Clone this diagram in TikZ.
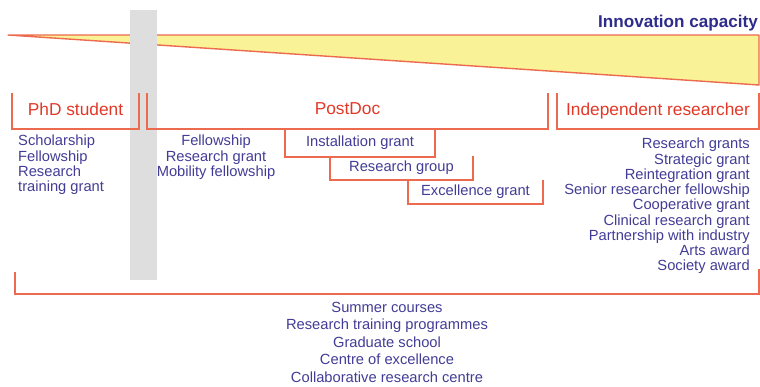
\documentclass[tikz,border=0pt]{standalone}
\usepackage{fontspec}
\setmainfont{Liberation Sans}
\usepackage{tikz}
\definecolor{stagered}{RGB}{226,56,40}
\definecolor{lineorange}{RGB}{236,106,78}
\definecolor{listblue}{RGB}{66,60,150}
\definecolor{titleblue}{RGB}{46,44,138}
\definecolor{wedgeyellow}{RGB}{250,242,150}
\definecolor{bargray}{RGB}{222,222,222}

\begin{document}
\begin{tikzpicture}[x=1pt,y=-1pt,
	stage/.style={text=stagered,font=\fontsize{17.3}{20}\selectfont,
		inner sep=0pt,outer sep=0pt,minimum height=36pt,text depth=4pt},
	stepbox/.style={text=listblue,font=\fontsize{14.7}{16}\selectfont,
		inner sep=0pt,outer sep=0pt,minimum height=24pt},
	grant/.style={text=listblue,font=\fontsize{14.7}{15.25}\selectfont,inner sep=0pt},
	bracket/.style={draw=lineorange,line width=1.4pt}]
	\useasboundingbox (0,0) rectangle (760,386);
	\filldraw[fill=wedgeyellow,draw=lineorange,line width=1.4pt,line join=round]
		(8,35) -- (759,35) -- (759,85) -- cycle;
	\node[font=\fontsize{17.1}{20}\selectfont\bfseries,text=titleblue,anchor=base east,inner sep=0pt]
		(capacity) at (758,27) {Innovation capacity};
	\fill[bargray] (130,10) rectangle (157,280);
	\node[stage,minimum width=127pt] (phd) at (75.5,111) {PhD student};
	\node[stage,minimum width=401pt] (postdoc) at (347.5,111) {PostDoc};
	\node[stage,minimum width=202pt] (indep) at (658,111) {Independent researcher};
	\foreach \n in {phd,postdoc,indep}
		\draw[bracket] (\n.north west) |- (\n.south east) -- (\n.north east);
	\node[stepbox,minimum width=150pt,minimum height=28pt] (inst) at (360,143) {Installation grant};
	\node[stepbox,minimum width=143pt] (group) at (401.5,168) {Research group};
	\node[stepbox,minimum width=135pt] (excel) at (475.5,192) {Excellence grant};
	\foreach \n in {inst,group,excel}
		\draw[bracket] (\n.north west) |- (\n.south east) -- (\n.north east);
	\node[grant,align=left,anchor=north west] (phdlist) at (18,135)
		{Scholarship\\Fellowship\\Research\\training grant};
	\node[grant,align=center,anchor=north] (postlist) at (216,135)
		{Fellowship\\Research grant\\Mobility fellowship};
	\node[grant,align=right,anchor=north east] (indeplist) at (750,138)
		{Research grants\\Strategic grant\\Reintegration grant\\Senior researcher fellowship\\
		Cooperative grant\\Clinical research grant\\Partnership with industry\\Arts award\\Society award};
	\draw[bracket] (15,272) |- (759,294) -- (759,269);
	\node[grant,font=\fontsize{14.7}{17.5}\selectfont,align=center,anchor=north] (training) at (387,302)
		{Summer courses\\Research training programmes\\Graduate school\\Centre of excellence\\
		Collaborative research centre};
\end{tikzpicture}
\end{document}
